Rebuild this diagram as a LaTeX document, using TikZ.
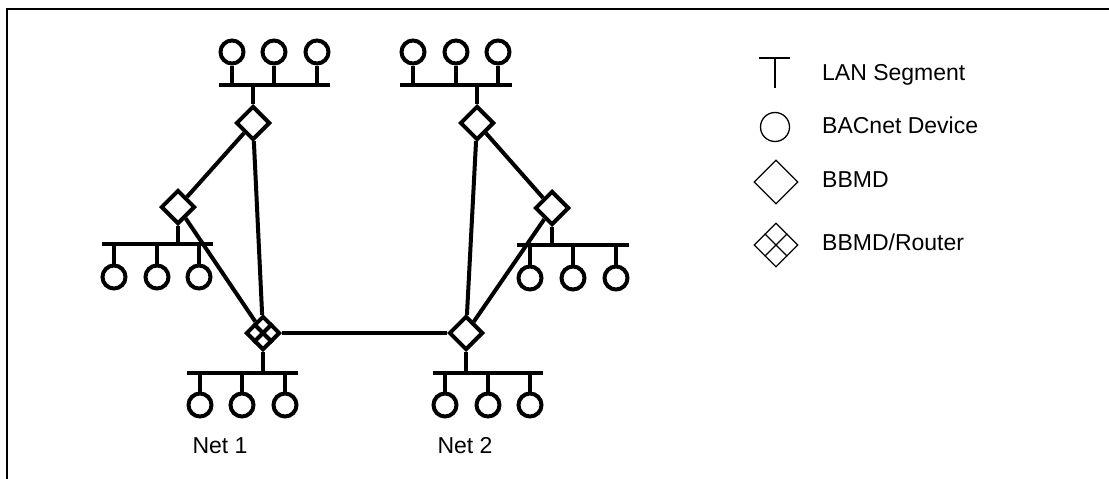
\documentclass[tikz,border=0pt]{standalone}
\usepackage{fontspec}
\setmainfont{Liberation Sans}
\usetikzlibrary{shapes.geometric,positioning}
\tikzstyle{dev}=[draw,circle,line width=4,minimum size=23,inner sep=0]
\tikzstyle{bbmd}=[draw,diamond,line width=4,minimum size=34,inner sep=0]
\tikzstyle{bus}=[draw,line width=4]
\tikzstyle{link}=[draw,line width=4]
\tikzstyle{key}=[draw,line width=1.3,inner sep=0]
\tikzstyle{keytext}=[anchor=base west,inner sep=0]

\begin{document}
\begin{tikzpicture}[x=1pt,y=-1pt,font=\fontsize{23}{28}\selectfont]
\useasboundingbox (0,0) rectangle (1109,479);
\draw[line width=2.5] (7,479) -- (7,9) -- (1109,9);

% BBMDs and the router
\node[bbmd] (a) at (253,123) {};
\node[bbmd] (b) at (178,207) {};
\node[bbmd] (r) at (263,333) {};
\node[bbmd] (d) at (466,333) {};
\node[bbmd] (e) at (477,123) {};
\node[bbmd] (f) at (552,208) {};
\path[link] (r.north west) -- (r.south east);
\path[link] (r.north east) -- (r.south west);

% LAN above a
\coordinate (al) at (219,85); \coordinate (ar) at (330,85);
\foreach \i/\x in {1/232,2/274,3/317}
	\node[dev] (a\i) at (\x,52) {};
\path[bus] (al) -- (ar);
\path[bus] (a) -- (a |- al);
\foreach \i in {1,2,3}
	\path[bus] (a\i) -- (a\i |- al);

% LAN above e
\coordinate (el) at (400,85); \coordinate (er) at (512,85);
\foreach \i/\x in {1/413,2/456,3/498}
	\node[dev] (e\i) at (\x,52) {};
\path[bus] (el) -- (er);
\path[bus] (e) -- (e |- el);
\foreach \i in {1,2,3}
	\path[bus] (e\i) -- (e\i |- el);

% LAN below b
\coordinate (bl) at (102,244); \coordinate (br) at (213,244);
\foreach \i/\x in {1/114,2/157,3/199}
	\node[dev] (b\i) at (\x,277) {};
\path[bus] (bl) -- (br);
\path[bus] (b) -- (b |- bl);
\foreach \i in {1,2,3}
	\path[bus] (b\i) -- (b\i |- bl);

% LAN below f
\coordinate (fl) at (517,245); \coordinate (fr) at (629,245);
\foreach \i/\x in {1/530,2/573,3/616}
	\node[dev] (f\i) at (\x,278) {};
\path[bus] (fl) -- (fr);
\path[bus] (f) -- (f |- fl);
\foreach \i in {1,2,3}
	\path[bus] (f\i) -- (f\i |- fl);

% Net 1
\coordinate (rl) at (187,373); \coordinate (rr) at (298,373);
\foreach \i/\x in {1/200,2/242,3/285}
	\node[dev] (r\i) at (\x,405) {};
\path[bus] (rl) -- (rr);
\path[bus] (r) -- (r |- rl);
\foreach \i in {1,2,3}
	\path[bus] (r\i) -- (r\i |- rl);

% Net 2
\coordinate (dl) at (433,373); \coordinate (dr) at (543,373);
\foreach \i/\x in {1/445,2/488,3/530}
	\node[dev] (d\i) at (\x,405) {};
\path[bus] (dl) -- (dr);
\path[bus] (d) -- (d |- dl);
\foreach \i in {1,2,3}
	\path[bus] (d\i) -- (d\i |- dl);

% links between BBMDs
\path[link] (a) -- (b);
\path[link] (a) -- (r);
\path[link] (b) -- (r);
\path[link] (r) -- (d);
\path[link] (e) -- (f);
\path[link] (e) -- (d);
\path[link] (f) -- (d);

\node[anchor=base,inner sep=0] (net1) at (220,453) {Net 1};
\node[anchor=base,inner sep=0] (net2) at (465,453) {Net 2};

% key
\coordinate (tl) at (759,58); \coordinate (tr) at (790,58);
\coordinate (tb) at (775,88);
\path[draw,line width=1.3] (tl) -- (tr);
\path[draw,line width=1.3] (tb |- tl) -- (tb);
\node[key,circle,minimum size=29] (kdev) at (775,127) {};
\node[key,diamond,minimum size=44] (kbbmd) at (776,182) {};
\node[key,diamond,minimum size=44] (krt) at (776,245) {};
\path[draw,line width=1.3] (krt.north west) -- (krt.south east);
\path[draw,line width=1.3] (krt.north east) -- (krt.south west);

\node[keytext] (tlan) at (822,80) {LAN Segment};
\node[keytext] (tdev) at (822,133) {BACnet Device};
\node[keytext] (tbbmd) at (822,187) {BBMD};
\node[keytext] (trt) at (822,250) {BBMD/Router};
\end{tikzpicture}
\end{document}
